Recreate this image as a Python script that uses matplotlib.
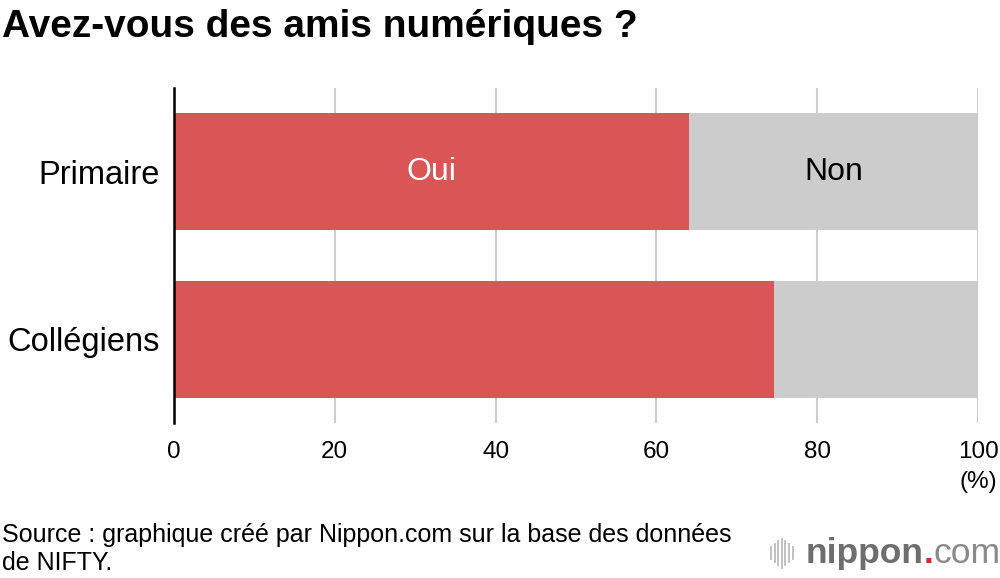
import matplotlib.pyplot as plt
from matplotlib.lines import Line2D

plt.rcParams['font.family'] = ['Liberation Sans', 'DejaVu Sans']

groups = ['Primaire', 'Collégiens']
oui = [64.1, 74.6]
non = [100 - v for v in oui]
ticks = [0, 20, 40, 60, 80, 100]

red = '#d95556'
grey = '#cccccc'

fig = plt.figure(figsize=(10, 5.78), dpi=100)
ax = fig.add_axes([0.174, 0.268, 0.804, 0.580])

ypos = list(range(len(groups)))
ax.barh(ypos, oui, height=0.7, color=red, zorder=3)
ax.barh(ypos, non, left=oui, height=0.7, color=grey, zorder=3)

ax.text(oui[0] / 2, 0, 'Oui', color='white', fontsize=23, ha='center', va='center', zorder=4)
ax.text(oui[0] + non[0] / 2, 0, 'Non', color='black', fontsize=23, ha='center', va='center', zorder=4)

ax.set_xlim(0, 100)
ax.set_ylim(1.5, -0.5)
ax.set_yticks(ypos)
ax.set_yticklabels(groups, fontsize=23.5)
ax.set_xticks(ticks)
ax.set_xticklabels([str(t) for t in ticks], fontsize=17.5)
ax.tick_params(axis='x', length=0, pad=13)
ax.tick_params(axis='y', length=0, pad=10)
ax.grid(axis='x', color='#cccccc', linewidth=1.5, zorder=0)
for s in ['top', 'right', 'bottom']:
    ax.spines[s].set_visible(False)
ax.spines['left'].set_linewidth(1.8)
ax.spines['left'].set_zorder(5)

fig.text(0.978, 0.166, '(%)', fontsize=17.5, ha='center', va='center')

fig.text(0.002, 0.953, 'Avez-vous des amis numériques ?', fontsize=28, fontweight='bold', va='center')

fig.text(0.002, 0.05, 'Source : graphique créé par Nippon.com sur la base des données\nde NIFTY.',
         fontsize=18, va='center', linespacing=1.2)

# logo
for i, h in enumerate([0.02, 0.032, 0.042, 0.05, 0.042, 0.032, 0.02]):
    x = 0.771 + i * 0.0036
    fig.add_artist(Line2D([x, x], [0.043 - h / 2, 0.043 + h / 2], color='#bbbbbb', linewidth=1.3))
t1 = fig.text(0.806, 0.043, 'nippon', fontsize=25.5, fontweight='bold', color='#6e6e6e', va='center')
fig.canvas.draw()
bb = t1.get_window_extent()
t2 = fig.text(bb.x1 / fig.bbox.width, 0.043, '.', fontsize=25.5, color='#e8232a', fontweight='bold', va='center')
bb = t2.get_window_extent()
fig.text(bb.x1 / fig.bbox.width, 0.043, 'com', fontsize=25.5, color='#8a8a8a', va='center')

fig.savefig('out.png', dpi=100)
